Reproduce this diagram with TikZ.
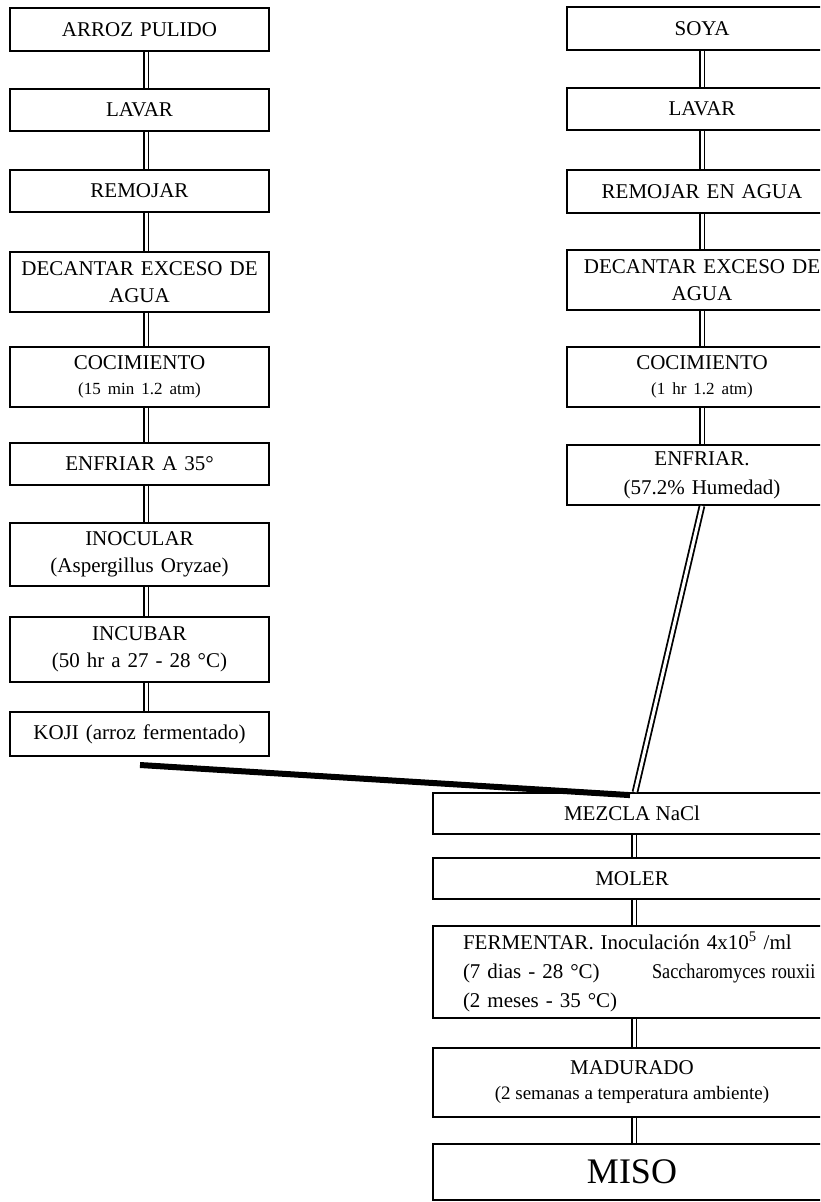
\documentclass[tikz,border=0pt]{standalone}
\usepackage{fontspec}
\usepackage{graphicx}
\setmainfont{Liberation Serif}
\begin{document}
\begin{tikzpicture}[x=1pt,y=-1pt,
  box/.style={draw, line width=1.8pt, inner sep=0pt, align=center, font=\fontsize{21}{27}\selectfont},
  lbox/.style={box, minimum width=259, text width=240},
  rbox/.style={box, minimum width=270, text width=250},
  bbox/.style={box, minimum width=398},
  dbl/.style={double, double distance=3pt, line width=1.8pt},
  thick link/.style={line width=6pt}
]
\useasboundingbox (0,0) rectangle (820,1202);
\clip (0,0) rectangle (820,1202);
\newcommand{\sm}[1]{{\fontsize{17}{20}\selectfont #1}}
% left column
\node[lbox, minimum height=43] (a1) at (139.5,29.5) {ARROZ PULIDO};
\node[lbox, minimum height=42] (a2) at (139.5,110) {LAVAR};
\node[lbox, minimum height=42] (a3) at (139.5,191) {REMOJAR};
\node[lbox, minimum height=60] (a4) at (139.5,282) {DECANTAR EXCESO DE\\AGUA};
\node[lbox, minimum height=60, font=\fontsize{21}{25}\selectfont] (a5) at (139.5,377) {COCIMIENTO\\\sm{(15 min 1.2 atm)}};
\node[lbox, minimum height=42] (a6) at (139.5,464) {ENFRIAR A 35°};
\node[lbox, minimum height=63] (a7) at (139.5,554.5) {INOCULAR\\(Aspergillus Oryzae)};
\node[lbox, minimum height=65] (a8) at (139.5,649.5) {INCUBAR\\(50 hr a 27 - 28 °C)};
\node[lbox, minimum height=44] (a9) at (139.5,734) {KOJI (arroz fermentado)};
% right column
\node[rbox, minimum height=43] (b1) at (702,28.5) {SOYA};
\node[rbox, minimum height=42] (b2) at (702,109) {LAVAR};
\node[rbox, minimum height=43] (b3) at (702,191.5) {REMOJAR EN AGUA};
\node[rbox, minimum height=60] (b4) at (702,280) {DECANTAR EXCESO DE\\AGUA};
\node[rbox, minimum height=60, font=\fontsize{21}{25}\selectfont] (b5) at (702,377) {COCIMIENTO\\\sm{(1 hr 1.2 atm)}};
\node[rbox, minimum height=60, font=\fontsize{21}{29}\selectfont] (b6) at (702,475) {ENFRIAR.\\(57.2\% Humedad)};
% bottom column
\node[bbox, minimum height=41] (c1) at (632,813.5) {MEZCLA NaCl};
\node[bbox, minimum height=41] (c2) at (632,878.5) {MOLER};
\node[box, minimum height=92, inner xsep=30pt, text width=338pt, align=left, font=\fontsize{21}{29}\selectfont] (c3) at (632,972)
  {FERMENTAR. Inoculación 4x10\textsuperscript{5} /ml\\\makebox[189pt][l]{(7 dias - 28 °C)}\scalebox{0.87}[1]{Saccharomyces rouxii}\\(2 meses - 35 °C)};
\node[bbox, minimum height=69, font=\fontsize{21}{25}\selectfont] (c4) at (632,1082.5) {MADURADO\\{\fontsize{19}{22}\selectfont (2 semanas a temperatura ambiente)}};
\node[bbox, minimum height=56, font=\fontsize{36}{40}\selectfont] (c5) at (632,1172) {MISO};
% connectors left
\foreach \u/\v in {a1/a2,a2/a3,a3/a4,a4/a5,a5/a6,a6/a7,a7/a8,a8/a9}
  \draw[dbl] ([xshift=6.5pt]\u.south) -- ([xshift=6.5pt]\v.north);
% connectors right
\foreach \u/\v in {b1/b2,b2/b3,b3/b4,b4/b5,b5/b6}
  \draw[dbl] (\u.south) -- (\v.north);
\draw[dbl] (b6.south) -- ([xshift=3pt]c1.north);
% bottom connectors
\foreach \u/\v in {c1/c2,c2/c3,c3/c4,c4/c5}
  \draw[dbl] ([xshift=2pt]\u.south) -- ([xshift=2pt]\v.north);
% koji link
\coordinate (kojitail) at (140,765);
\draw[thick link] (kojitail) -- ([xshift=-2pt,yshift=-3pt]c1.north);
\end{tikzpicture}
\end{document}
